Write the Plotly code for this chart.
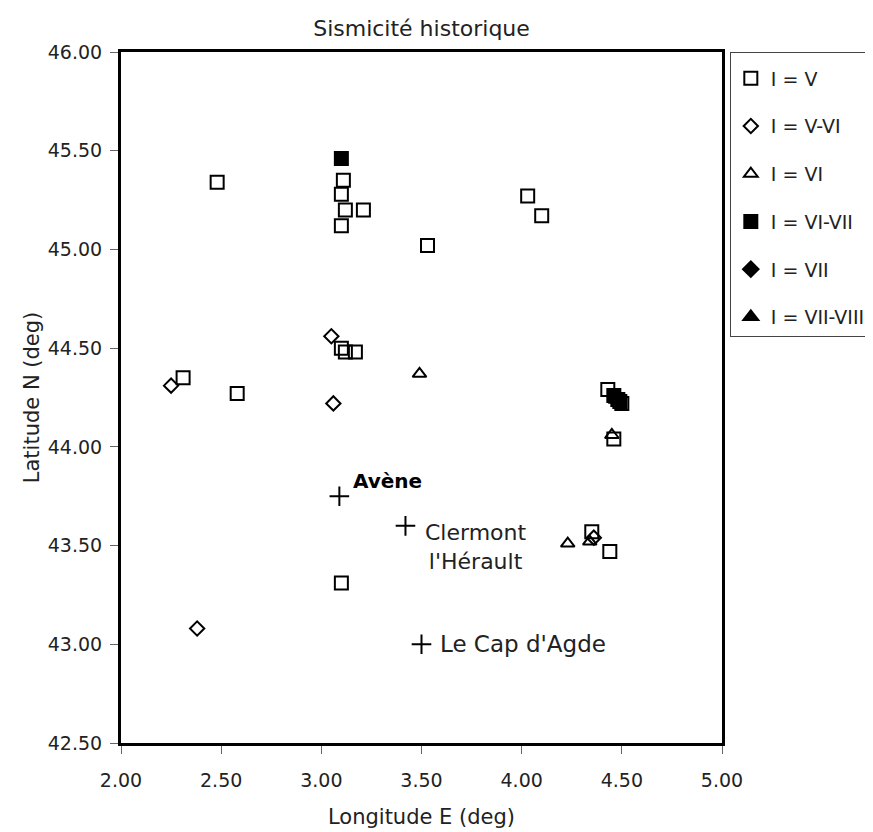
import plotly.graph_objects as go

# ---- data (longitude E, latitude N) ----
v_lon = [2.48, 3.11, 3.10, 3.12, 3.21, 3.10, 3.53, 4.03, 4.10, 3.10, 3.12, 3.17,
         2.31, 2.58, 4.43, 4.50, 4.46, 4.35, 4.44, 3.10]
v_lat = [45.34, 45.35, 45.28, 45.20, 45.20, 45.12, 45.02, 45.27, 45.17, 44.50, 44.48, 44.48,
         44.35, 44.27, 44.29, 44.22, 44.04, 43.57, 43.47, 43.31]

vvi_lon = [3.05, 3.06, 2.25, 2.38, 4.36]
vvi_lat = [44.56, 44.22, 44.31, 43.08, 43.54]

vi_lon = [3.49, 4.45, 4.23, 4.34]
vi_lat = [44.37, 44.06, 43.51, 43.52]

vivii_lon = [3.10, 4.46, 4.48, 4.49]
vivii_lat = [45.46, 44.26, 44.24, 44.23]

vii_lon = [4.47]
vii_lat = [44.25]

viiviii_lon = [4.47]
viiviii_lat = [44.24]

city_names = ["Avène", "Clermont<br>l'Hérault", "Le Cap d'Agde"]
city_lon = [3.09, 3.42, 3.50]
city_lat = [43.75, 43.60, 43.00]

x_ticks = [2.0, 2.5, 3.0, 3.5, 4.0, 4.5, 5.0]
y_ticks = [42.5, 43.0, 43.5, 44.0, 44.5, 45.0, 45.5, 46.0]

FONT = "DejaVu Sans"
TXT = "#222"
fig = go.Figure()

series = [
    ("I = V", v_lon, v_lat, "square-open", 13),
    ("I = V-VI", vvi_lon, vvi_lat, "diamond-open", 11),
    ("I = VI", vi_lon, vi_lat, "triangle-up-open", 12),
    ("I = VI-VII", vivii_lon, vivii_lat, "square", 13),
    ("I = VII", vii_lon, vii_lat, "diamond", 12),
    ("I = VII-VIII", viiviii_lon, viiviii_lat, "triangle-up", 13),
]
for i, (name, xs, ys, sym, sz) in enumerate(series):
    fig.add_trace(go.Scatter(
        x=xs, y=ys, mode="markers", name=name, legendgroup=str(i),
        marker=dict(symbol=sym, size=sz, color="black",
                    line=dict(color="black", width=2)),
    ))

fig.add_trace(go.Scatter(
    x=city_lon, y=city_lat, mode="markers", showlegend=False,
    marker=dict(symbol="cross-thin", size=14, line=dict(color="black", width=2)),
))

# city labels
fig.add_annotation(x=city_lon[0], y=city_lat[0], text="<b>Avène</b>", showarrow=False,
                   xanchor="left", yanchor="bottom", xshift=12, yshift=1,
                   font=dict(family=FONT, size=20, color="black"))
fig.add_annotation(x=city_lon[1], y=city_lat[1], text=city_names[1], showarrow=False,
                   xanchor="left", yanchor="top", xshift=18, yshift=8, align="center",
                   font=dict(family=FONT, size=22, color=TXT))
fig.add_annotation(x=city_lon[2], y=city_lat[2], text=city_names[2], showarrow=False,
                   xanchor="left", yanchor="middle", xshift=16,
                   font=dict(family=FONT, size=23, color=TXT))

W, H = 865, 824
fig.update_layout(
    width=W, height=H,
    margin=dict(l=113, r=W - 714, t=44, b=H - 735, autoexpand=False),
    paper_bgcolor="white", plot_bgcolor="white",
    font=dict(family=FONT, size=19, color=TXT),
    title=dict(text="Sismicité historique", x=0.5, xanchor="center",
               xref="paper", yref="container", y=1 - 20 / H, yanchor="middle",
               font=dict(family=FONT, size=22, color=TXT)),
    showlegend=True,
    legend=dict(x=1.013, y=1.0, xanchor="left", yanchor="top",
                bordercolor="#444", borderwidth=1, bgcolor="white",
                tracegroupgap=20, font=dict(family=FONT, size=19, color=TXT),
                itemwidth=30,
                title=dict(text="&nbsp;", font=dict(size=5))),
    xaxis=dict(range=[2.0, 5.0], tickvals=x_ticks, tickformat=".2f",
               showgrid=False, zeroline=False, showline=True, linecolor="black",
               linewidth=3, mirror=True, ticks="outside", ticklen=8, tickcolor="#666",
               ticklabelstandoff=10,
               tickfont=dict(family=FONT, size=19, color=TXT),
               title=dict(text="Longitude E (deg)", standoff=20,
                          font=dict(family=FONT, size=21, color=TXT))),
    yaxis=dict(range=[42.5, 46.0], tickvals=y_ticks, tickformat=".2f",
               showgrid=False, zeroline=False, showline=True, linecolor="black",
               linewidth=3, mirror=True, ticks="outside", ticklen=8, tickcolor="#666",
               ticklabelstandoff=4,
               tickfont=dict(family=FONT, size=19, color=TXT),
               title=dict(text="Latitude N (deg)", standoff=3,
                          font=dict(family=FONT, size=21, color=TXT))),
)

fig.write_html("out.html")
